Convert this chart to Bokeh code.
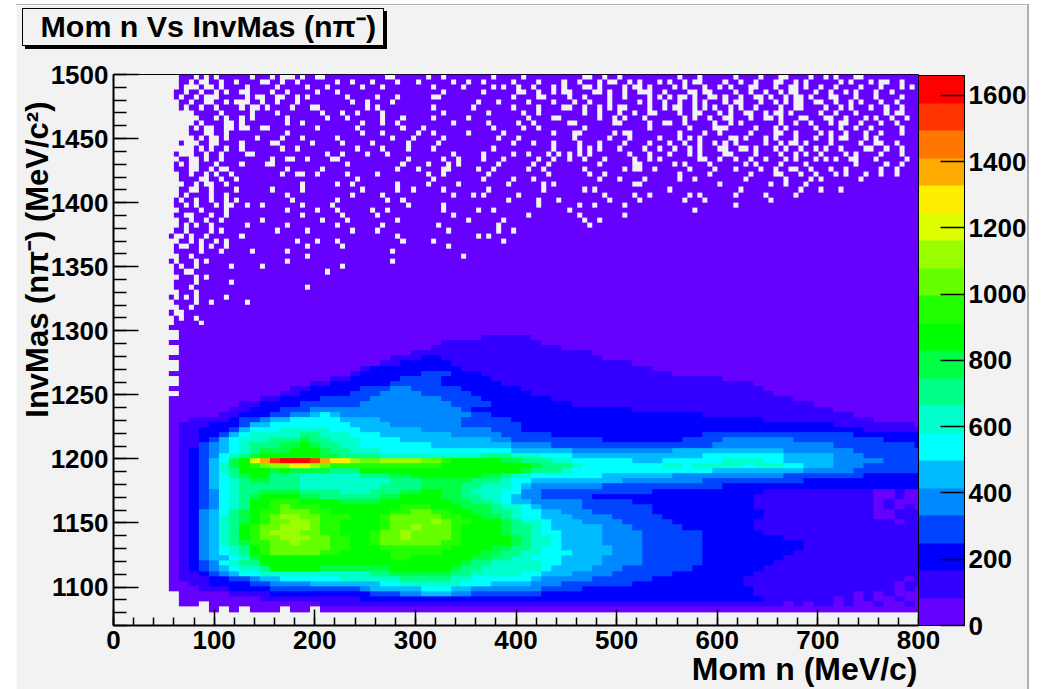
import numpy as np
from bokeh.embed import file_html
from bokeh.resources import INLINE
from bokeh.layouts import column
from bokeh.plotting import figure
from bokeh.models import (LinearColorMapper, ColorBar, SingleIntervalTicker, FixedTicker,
                          Div, Range1d, Title)

TITLE = "Mom n Vs InvMas (n\u03c0\u207b)"
XLABEL = "Mom n (MeV/c)"
YLABEL = "InvMas (n\u03c0\u207b) (MeV/c\u00b2)"
COLORBAR_TICKS = [0, 200, 400, 600, 800, 1000, 1200, 1400, 1600]
PALETTE = ["#6600ff", "#3300ff", "#0000ff", "#0044ff", "#0088ff", "#00bbff", "#00ffff",
           "#00ffcc", "#00ff88", "#00ff44", "#00ff00", "#22ff00", "#66ff00", "#99ff00",
           "#ddff00", "#ffee00", "#ffaa00", "#ff7700", "#ff3300", "#ff0000"]
Z_MAX = 1660
LEVELS = "0123456789abcdefghij"

# Counts, as colour-band index per cell ('.' = empty bin).
# Lower block: bins 10 MeV/c wide from 55, 4 MeV/c^2 high from 1068.5, listed from the bottom up.
LOWER_ROWS = [
 "..........",
 "..........",
 "..........",
 "....0.0.00 0.00.00000 0000000000 0000000000 0000000000 0000000000 0000000000 00000",
 ".00.000000 0000011111 1111111111 1111111111 1111111111 1111111111 1010110100 10010",
 ".000000001 1111111112 2222222222 2222222222 2222222222 2222222221 1111110101 00100",
 ".000001111 2222222222 3334455544 3333333222 2222222222 2222222211 1111111101 01000",
 "0001112222 3333333334 5555566655 4444444333 3222222222 2222222211 1111111111 11010",
 "0011222233 4444555555 5667777776 6655554443 3333332222 2222222111 1111111111 11011",
 "0111223345 5666666777 7778888877 6666665444 4433333322 2222222111 1111111111 11101",
 "0112345667 7777777777 8899999988 7777766555 4444333333 2222222211 1111111111 11111",
 "0123456778 aaaaa99999 99aaaaaa98 8777777655 5544433333 3322222221 1111111111 11111",
 "012346788a aaaaaaaaaa aaaaaaaaa9 8877777665 5554444333 3332222222 1111111111 11111",
 "012455679a aaaaaaaaaa aabbaaaaaa 9988776665 5554444333 3332222222 2111111111 11111",
 "01245678ab cccccbbaaa aabbbbbaaa a998877666 5555444333 3332222222 2211111111 11111",
 "01245678ab ccccccbbaa abbbbbbbaa aa99887665 5555444333 3332222222 2221111111 11111",
 "01245789bb ccdcccbbaa bccccccbba aaaa987765 5554444333 3332222222 2221111111 11111",
 "0124578abc cdddccbbaa bccdccccba aaaa987765 5554444333 3332222222 2111111111 11111",
 "0124578abc dddccbbaaa bccdccccba aaa9887665 5554444333 3332222221 1111111111 11111",
 "0124578abc cdddcbbaaa abccdcccba aaa9887655 5554443333 3222222211 1111111111 11111",
 "01245789ab ccddcbbaaa abccccdcbb aaa9877655 5444433333 2222222211 1111111111 11011",
 "01245789ab cddccbbbaa abcccccbba a998766555 4444333332 2222222221 1111111111 00111",
 "01245689ab bcccbbaaaa aabbccbbaa 9988766554 4433333322 2222222221 1111111111 00111",
 "01234678aa bcbbbaaaaa aaabbbaaa9 9987765444 4333333322 2222222211 1111111111 01010",
 "01234678aa bbbaaaa999 9aaaaaaa99 8876554444 4333332222 2222222211 1111111111 01000",
 "012346789a aaa9988888 899aaaa998 8776544333 3322222222 2222222211 1111111111 00100",
 "0123467889 9998888777 88899aa998 7776644333 3333333322 2222222221 1111111111 00100",
 "0123567888 8887777777 7888899998 8777654444 4443333333 3333322222 2222222222 22222",
 "0123567899 8887777777 7788899999 8887665555 5555544444 4443333333 3332222222 22222",
 "01235689aa 8887777778 8899aaaaaa a998776666 6665555555 4444444444 4333333332 22222",
 "0123578aaa 9a9999888a aaaaaaaaaa aaaaa98887 6666666666 6666555555 5554444433 33333",
 "0123579abc ddffdcbbbb bbbbbbbaaa aaaaaa9888 7666666667 7677777677 7665554443 33333",
 "0123569aeg ijjjigffdc cddddccbaa aaa9988877 6666665556 6666677776 6555554444 43333",
 "012346789a aaaaa99888 8777777777 7888777666 5555555555 5556666666 6555554443 33333",
 "0123456789 99aaa98877 7666666666 6666555555 4444444444 5555555555 5444444433 33333",
 "0113456788 899a988776 6666665555 5555444433 3333333333 3333444444 4444443333 33332",
 "0112356777 8889887776 6665555555 5544333333 3332222222 2333344444 4433333333 32222",
 "0112235677 7778877766 6555555544 4443333322 2222222222 2223333333 3333333322 22222",
 "0112223566 6777776665 5555544444 4433322222 2222222222 2222222222 2222222221 11111",
 "0111222355 6666666655 5544444443 3333322222 2222222222 2222222222 2222221111 11110",
 "0011112334 5566666555 5444444443 3333222222 2222222222 2222222221 1111111111 00000",
 "0000011222 3344565444 4444444444 3322222222 2222222222 2221111111 1111111100 00000",
 "0000001122 2333444444 4444444443 2222222222 2222221111 1111111111 1111110000 00000",
 "0000000112 2223333334 4444444433 3322222222 1111111111 1111111111 1111000000 00000",
 "0000000001 1222233333 4444444333 3222222211 1111111111 1111111111 1100000000 00000",
 ".000000000 0112222233 3444433333 2222221111 1111111111 1111111111 0000000000 00000",
 "0000000000 0011222223 3344333332 2222211111 1111111111 1111111110 0000000000 00000",
 ".000000000 0000112222 2233333222 2221111111 1111111111 1111111100 0000000000 00000",
 ".000000000 0000001122 2223333222 2211111111 1111111111 1111100000 0000000000 00000",
 "0000000000 0000000012 2222233322 2111111111 1111111111 0000000000 0000000000 00000",
 ".000000000 0000000001 2222222221 1111111111 1111111100 0000000000 0000000000 00000",
 ".000000000 0000000000 0112222211 1111111111 1111110000 0000000000 0000000000 00000",
 "0000000000 0000000000 0011122111 1111111111 1110000000 0000000000 0000000000 00000",
 ".000000000 0000000000 0000111111 1111111111 1100000000 0000000000 0000000000 00000",
 ".000000000 0000000000 0000001111 1111111110 0000000000 0000000000 0000000000 00000",
 "0000000000 0000000000 0000000111 1111111000 0000000000 0000000000 0000000000 00000",
 ".000000000 0000000000 0000000000 0111110000 0000000000 0000000000 0000000000 00000",
 ".000000000 0000000000 0000000000 0000000000 0000000000 0000000000 0000000000 00000",
 "0000000000 0000000000 0000000000 0000000000 0000000000 0000000000 0000000000 00000",
]

# Upper block: bins 5 MeV/c wide from 50, 4 MeV/c^2 high, listed from the top (1500) down.
# Short rows are full ('0') beyond their last character.
UPPER_ROWS = [
 "...000.0.0 .000000.00 0.0...0.00 ..00000000 0000..0000 00.00.0000 00000.0000 0.00000000 000..00.00 .000000000 00.000.000 000.0000.0 00..0000.0 0.0.000..0 0000000000",
 "...00.0..0 0.00.0000. .00.00.000 0000.00.00 0.0000.000 .000000.00 .00.00000. 0000.0000. 00.000.0.. 00.0.000.0 .00.0..000 0.00.00.00 0..00.0.00 0000.0.000 .0..00.00",
 "...0...0.. 0.0000.000 00.00000.0 00.000000. 000.000000 000.00000. 00000.0.00 .00.000.0. 000..0.000 0.0..0.000 0.0.000.00 .0.000..00 0.00..0.00 .00.0000.0 00.000.0.",
 "..00.00.00 .0.00..000 0.00.00000 .000.00000 0000000000 00000.0000 000.000000 ..00.00.0. .0000..0.0 0.00...00. 0000..0..0 000.00.00. 00.0..000. 00.00.0.00 0.00.0000",
 "..0.00.0.. .00000.0.. 00..00.0.0 000000.000 00.000.000 000..00000 000000000. 0000..0000 .00.0000.0 0.0000.0.0 .0..0.00.. 0.00.00..0 .00.0..0.0 00..000.00 0.0000.00",
 "...00.00.. 00.0...00. 00.000.000 0000000.00 .0000.0000 0000000000 00.000.000 00.0000.00 0.00.000.0 0000.0.00. 00.00.0.00 0.0..000.0 0.0.0..00. .00.00.0.0 00.00.000",
 "...0.00.00 .0000.0..0 .0000.000. .000000000 .0.0000000 000.000000 0.0000000. 0000.0000. .00.00.0.0 ..0000.00. 0..00.0.0. 00.0.00.00 00.00..000 0.00.0.000 .00.00.00",
 "......0000 0.00000.00 00.0000000 0.000.00.0 000.000000 00000.0000 0000.00000 0.00.00000 000.00.000 .00.00..00 00.00..000 .0.00..00. 0..0.00000 .00.000.00 000.0..00",
 ".......000 .0.00.0.00 0000.00000 00.000.000 000.000.00 000.000000 .000000000 00.0000..0 000000.00. 0.000.0000 000.0.00.0 0..000.00. .0.000..00 0..00.000. 0.00.00.0",
 "......0.00 00..0.0000 0000.00.00 000000000. 000.00.000 0000000.00 0000.00000 .00.000000 ..0000000. .00000.00. .00.00000. 00.0.00000 00.00.00.0 00.0..00.0 00.00.000",
 ".....0.0.. 00..0..00. .000000000 .0000000.0 0000000.00 0.00000000 00000.0000 0.00.00000 000.000000 000000.000 0000.0000. ..00000.00 0.0.00000. 0000.00.00 .00000.00",
 ".....000.. 00.0000000 0000.00000 000000000. 000.000000 .00.000000 .000000.00 0000000.00 0..000000. 0..0000000 00.0000.00 .00000.000 0..00.0000 .0.00.000. 00.000.00",
 "......0.0. .0.00000.0 000.000.00 0000.00000 00000.000. 00000.0000 000000.000 .000000000 0.000000.0 00.00000.0 00.0.0.000 00..0.000. 0.000.000. 00.0..000. 0.0000000",
 "...0...00. .0000.0000 0..000000. 00000.0000 0.000000.0 0000.00000 000000000. 000.000.00 00.000.000 0.0000.000 .00.00.00. 0.0.00000. 00.0..0.00 00.00000.0 0..00.000",
 "......0.0. 00.00.0000 000.00.000 00000000.0 000.0000.0 000.000000 00000.0000 0000000.00 00.0.0.000 .0000.00.0 0.00.0.000 ..00..0.00 0.0.00.00. 0.00.0000. .00.00.00",
 "..0...00.0 0.0000..00 0000000000 00.00.0000 .000.00000 0000000.00 000.00000. 00.000.0.0 .0.0.00000 00.000.000 .000.0.000 0..0000.00 00.00.0.00 .0000.0.00 00.000.00",
 "...00..0.0 0.00000000 0.00..00.0 000..00000 00000000.0 00000.00.0 000.000.00 0000.00.00 .00.000.00 000.00.0.0 000000..00 .00.00.00. 000.0.000. 0.0.00..00 0.00000.0",
 "..0.0..000 .0000.0000 ..00000000 000000.000 0000000.00 00.000.0.0 000000.000 000.00.000 000000.000 000..00000 0.0.0000.0 00000.0.00 00.0000.00 0000000.00 000.00.00",
 "..000..00. 0..0000000 0000.00000 0.00000000 000000.000 .0000..000 00.00.0000 00.00.0000 000.000000 0.0..00.00 0000.0000. 000.0000.0 0.00..00.0 00.00.0000 00.00.000",
 "...00.00.0 .00.000000 000.00..00 .00000.000 00.0000000 00.00.0000 0000.00000 000000.000 0000.00.00 0000000000 00.00000.0 000000.000 0..000.00. 000.0.000. 00.00.000",
 "...0000..0 0.00.00000 0000000000 00000000.0 0000000000 000.000000 000.00000. 000.000000 000000.000 .0000.0000 00.00.0000 00000.0000 000.0000.0 .0000000.0 000000000",
 "....00.0.. 00.0000000 0000000.00 0000.00.00 000000.000 00.00000.0 00000000.0 00000.0.00 0000000000 000..00000 0000000000 .000000000 .00.000.00 0000000000 000000000",
 "...00..00. 0000.00000 0.00000.00 000000000. 000000.00. 00000.0000 0000.00000 00000.0000 000.0.0000 0000000000 .000000000 0000.00000 000000.000 .000.00000 000000000",
 "...0.0000. 00.0000000 0000.00000 0000000.00 000.000000 0000000.00 0.0.000000 .000000000 0000000.00 000.00.000 0000.0.000 000.00000. 00000.0000",
 "..0.00.00. 00.0.00000 00000.0000 0000.00000 0000.00.00 0000000000 00000000.0 0000.000.0 00000000.0 0000.00000 000.000.00 0000000000 .00000000",
 "..00.0.000 .0..00.00. 0000000.00 000.000000 00000000.0 00000.0000 0000000000 0000.00000 00.00.0000 0.00000000 0000000000 000.000000",
 "...0000.00 00.0000000 0000.00000 .000.00000 0.00.00000 00000.0000 00.00.0000 0000000000 .000000000 0000000000 00000.0000",
 "..00..000. 00.0000000 0000000.00 00000.0000 00.0000000 0000000.00 0000000000 00.0000000 00.0000000 0.00000000",
 "...00.00.0 0.0000000. 0000000000 0.0000.000 000000.000 0000000000 .000000.00 0000000000 000.00.000",
 "...0.0.00. 000000.000 0000.00000 0000.00000 000.000000 0000.00000 000000.000 0000000000 0000.00000",
 "..00.0000. 0.00000000 00.00000.0 0000000.00 00.0000000 000000.000 000000.00.",
 ".0..0.00.0 00000.0000 0000000000 0000000000 000000.000 0000000000 00.0.00000",
 "...00.0.00 .0.0000000 000000.000 .000.00000 0000000.00 000.000000 0000000.00",
 "..0..00.0. 00.0000000 00000000.0 00000.0000 0000000000 000000.000",
 "..00000.00 0.00000.00 0000.00000 0000000000 00000.0000",
 "...00.0000 0000000000 00000000.0 0000000000 0000000000 000000000.",
 ".0.000.0.0 0000000000 0000.00000 0000000000 00000.0000",
 "..0.00.000 000.00000. 0000000000 00000.00",
 "..00..0000 0000000000 0000000000 00.00000",
 "...000.0.0 0000000000 0000000000",
 "..0000.000 000.000000 0000000000",
 "..000.0000 0000000000 00000000.",
 "...000.000 0000000000",
 ".0.0.0.000 00.0000000",
 "..0000.00. 000000.000",
 "...00.0000 0000000000",
 ".0..000000 0000000000",
 "..0.00.000 0000000000",
 "..00000.00 0000000000",
 "...000.000 0000000000",
]


def cells(rows, fill, extra=0):
    clean = [r.replace(" ", "") for r in rows]
    width = max(len(r) for r in clean) + extra
    grid = np.full((len(clean), width), np.nan)
    band = Z_MAX / len(PALETTE)
    for i, r in enumerate(clean):
        for j in range(width):
            ch = r[j] if j < len(r) else fill
            if ch != ".":
                grid[i, j] = (LEVELS.index(ch) + 0.5) * band
    return grid


lower = cells(LOWER_ROWS, ".")
upper = cells(UPPER_ROWS, "0", extra=2)[::-1]

GREY = "#f2f2f2"
mapper = LinearColorMapper(palette=PALETTE, low=0, high=Z_MAX, nan_color=(0, 0, 0, 0))

p = figure(width=1013, height=685, margin=(4, 0, 0, 16), output_backend="svg", toolbar_location=None,
           x_range=Range1d(0, 800), y_range=Range1d(1070, 1500),
           min_border_left=97, min_border_right=111, min_border_top=69, min_border_bottom=65,
           border_fill_color=GREY, background_fill_color=GREY, outline_line_color="black",
           outline_line_width=1)
p.grid.visible = False

p.image(image=[lower], x=55, y=1068.5, dw=10 * lower.shape[1], dh=4 * lower.shape[0], color_mapper=mapper)
p.image(image=[upper], x=50, y=1500 - 4 * upper.shape[0], dw=5 * upper.shape[1], dh=4 * upper.shape[0],
        color_mapper=mapper)

FONT = "Liberation Sans"
for ax, interval, tick_in, minor_in in ((p.xaxis[0], 100, 16, 8), (p.yaxis[0], 50, 25, 13)):
    ax.ticker = SingleIntervalTicker(interval=interval, num_minor_ticks=5)
    ax.axis_line_color = "black"
    ax.axis_line_width = 2
    ax.major_tick_in = tick_in
    ax.major_tick_out = 0
    ax.minor_tick_in = minor_in
    ax.minor_tick_out = 0
    ax.major_tick_line_color = "black"
    ax.minor_tick_line_color = "black"
    ax.major_tick_line_width = 1.5
    ax.minor_tick_line_width = 1.5
    ax.major_label_text_font = FONT
    ax.major_label_text_font_style = "bold"
    ax.major_label_text_font_size = "26px"
    ax.major_label_text_color = "black"
    ax.major_label_standoff = 5

bar = ColorBar(color_mapper=mapper, ticker=FixedTicker(ticks=COLORBAR_TICKS), width=46, height=550,
               location=(0, 0), padding=0, margin=0, label_standoff=4,
               bar_line_color="black", bar_line_width=1,
               major_tick_in=24, major_tick_out=0, major_tick_line_color="black", major_tick_line_width=1.5,
               minor_tick_line_color=None,
               major_label_text_font=FONT, major_label_text_font_style="bold",
               major_label_text_font_size="26px", major_label_text_color="black",
               background_fill_color=None, border_line_color=None)
p.add_layout(bar, "right")

TEXT_STYLE = dict(text_font=FONT, text_font_style="bold", text_color="black")
p.add_layout(Title(text=XLABEL, align="right", offset=1, standoff=-2, vertical_align="top",
                   text_font_size="32px", **TEXT_STYLE), "below")
p.add_layout(Title(text=YLABEL, align="right", offset=27, standoff=-14, vertical_align="bottom",
                   text_font_size="31px", **TEXT_STYLE), "left")
# A blank line between the main title and the frame lifts the title to its place.
p.add_layout(Title(text="\u00a0", standoff=29, text_font_size="1px"), "above")
p.title.text = TITLE
p.title.align = "left"
p.title.offset = -73
p.title.standoff = 0
p.title.vertical_align = "bottom"
p.title.text_font_size = "30.4px"
p.title.text_font = FONT
p.title.text_font_style = "bold"
p.title.text_color = "black"

p.styles = {"border-top": "1px solid #b0b0b0", "border-right": "2px solid #b0b0b0"}

title_frame = Div(text="", width=362, height=38, margin=0,
                  styles={"position": "absolute", "left": "22px", "top": "8px",
                          "border": "1px solid black", "box-shadow": "3px 3px 0 0 black",
                          "pointer-events": "none"})

open("out.html", "w").write(file_html(column(p, title_frame, spacing=0), INLINE))
